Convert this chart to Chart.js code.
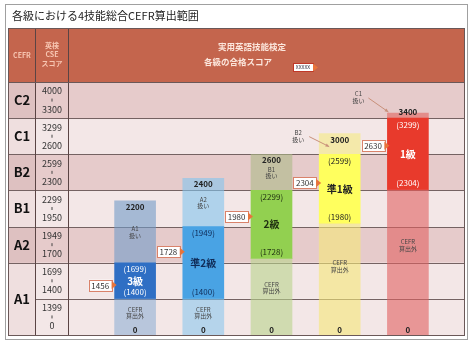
<!DOCTYPE html>
<html lang="ja">
<head>
<meta charset="utf-8">
<title>各級における4技能総合CEFR算出範囲</title>
<script src="https://cdn.jsdelivr.net/npm/chart.js@4/dist/chart.umd.min.js"></script>
<style>
  html, body { margin: 0; padding: 0; background: #fff; }
  #wrap { position: relative; width: 474px; height: 342px; }
</style>
</head>
<body>
<div id="wrap"><canvas id="cefrChart"></canvas></div>
<script>
// CSE score bands (bottom to top) and the CEFR level of each band
const bandFloor = [0, 1400, 1700, 1950, 2300, 2600, 3300];
const bandCeil = [1399, 1699, 1949, 2299, 2599, 3299, 4000];
const bandCefr = ['A1', 'A1', 'A2', 'B1', 'B2', 'C1', 'C2'];
const cseTop = 4000;

// Eiken grades
const grades = ['3級', '準2級', '2級', '準1級', '1級'];
const passLow = [1400, 1400, 1728, 1980, 2304];
const passHigh = [1699, 1949, 2299, 2599, 3299];
const scoreMax = [2200, 2400, 2600, 3000, 3400];
const passMark = [1456, 1728, 1980, 2304, 2630];
const treatedAs = ['A1', 'A2', 'B1', 'B2', 'C1'];

const titleText = '各級における4技能総合CEFR算出範囲';
const JP = "'Noto Sans CJK JP', 'Noto Sans', sans-serif";

// colours
const passColors = ['#2F6FC4', '#49A3E4', '#92D050', '#FFFF5E', '#E83A2C'];
const highColors = ['rgba(113,155,200,0.6)', 'rgba(130,197,238,0.6)', 'rgba(172,185,135,0.6)', 'rgba(245,235,130,0.6)', 'rgba(225,100,95,0.6)'];
const lowColors = ['rgba(125,165,210,0.5)', 'rgba(130,197,238,0.55)', 'rgba(185,212,140,0.6)', 'rgba(245,232,120,0.6)', 'rgba(225,97,97,0.6)'];
const passText = ['#ffffff', '#102c58', '#1e2e10', '#222222', '#ffffff'];

// score -> row position (each CEFR band gets one row)
function toRow(score) {
  for (let i = bandFloor.length - 1; i >= 0; i--) {
    if (score >= bandFloor[i]) {
      const next = i + 1 < bandFloor.length ? bandFloor[i + 1] : cseTop;
      return i + (score - bandFloor[i]) / (next - bandFloor[i]);
    }
  }
  return 0;
}

const lowData = passLow.map(v => [0, toRow(v)]);
const passData = passLow.map((v, i) => [toRow(v), toRow(passHigh[i] + 1)]);
const highData = passHigh.map((v, i) => [toRow(v + 1), toRow(scoreMax[i])]);

function txt(ctx, s, x, y, font, color, align) {
  ctx.font = font;
  ctx.fillStyle = color;
  ctx.textAlign = align || 'center';
  ctx.textBaseline = 'middle';
  ctx.fillText(s, x, y);
}

const tablePlugin = {
  id: 'cefrTable',
  beforeDatasetsDraw(chart) {
    const { ctx, scales: { y } } = chart;
    const L = 8, C1 = 35, C2 = 68, R = 464, HT = 28;
    const yHead = y.getPixelForValue(bandFloor.length);
    const yBase = y.getPixelForValue(0);
    const levels = [...new Set(bandCefr)];
    ctx.save();
    ctx.fillStyle = '#fff';
    ctx.fillRect(0, 0, chart.width, chart.height);
    ctx.strokeStyle = '#a0a0a0';
    ctx.lineWidth = 1;
    ctx.strokeRect(5.5, 4.5, 462, 335);

    txt(ctx, titleText, 12, 16, `11px ${JP}`, '#222', 'left');

    // header
    ctx.fillStyle = '#C4654D';
    ctx.fillRect(L, HT, R - L, yHead - HT);

    // rows
    bandFloor.forEach((f, i) => {
      const yt = y.getPixelForValue(i + 1), yb = y.getPixelForValue(i);
      const dark = levels.indexOf(bandCefr[i]) % 2 === 1;
      ctx.fillStyle = dark ? '#E6CBCB' : '#F3E7E7';
      ctx.fillRect(L, yt, R - L, yb - yt);
      ctx.fillStyle = dark ? '#DEC1C1' : '#EFDFDF';
      ctx.fillRect(L, yt, C1 - L, yb - yt);
    });

    // row lines
    ctx.strokeStyle = '#746262';
    ctx.lineWidth = 1;
    for (let i = 1; i < bandFloor.length; i++) {
      const yy = Math.round(y.getPixelForValue(i)) + 0.5;
      const x0 = bandCefr[i] === bandCefr[i - 1] ? C1 : L;
      ctx.beginPath(); ctx.moveTo(x0, yy); ctx.lineTo(R, yy); ctx.stroke();
    }
    ctx.strokeStyle = '#5a4444';
    [C1, C2].forEach(x => {
      ctx.beginPath(); ctx.moveTo(x + 0.5, HT); ctx.lineTo(x + 0.5, yBase); ctx.stroke();
    });
    ctx.strokeStyle = '#6a5858';
    ctx.strokeRect(L + 0.5, HT + 0.5, R - L, yBase - HT);
    ctx.beginPath(); ctx.moveTo(L, Math.round(yHead) + 0.5); ctx.lineTo(R, Math.round(yHead) + 0.5); ctx.stroke();

    // CEFR labels
    levels.forEach(lv => {
      const idx = bandCefr.map((c, i) => c === lv ? i : -1).filter(i => i >= 0);
      const yt = y.getPixelForValue(Math.max(...idx) + 1), yb = y.getPixelForValue(Math.min(...idx));
      txt(ctx, lv, (L + C1) / 2 + 0.5, (yt + yb) / 2, `bold 13px ${JP}`, '#111');
    });
    // CSE ranges
    bandFloor.forEach((f, i) => {
      const yt = y.getPixelForValue(i + 1), yb = y.getPixelForValue(i);
      const cx = (C1 + C2) / 2 + 0.5;
      txt(ctx, String(bandCeil[i]), cx, yt + 9, `9px ${JP}`, '#333');
      txt(ctx, String(f), cx, yb - 9, `9px ${JP}`, '#333');
      ctx.fillStyle = '#444';
      ctx.fillRect(cx - 0.5, (yt + yb) / 2 - 1.5, 1, 3);
    });

    // header texts
    const hc = '#F7C6B2';
    txt(ctx, 'CEFR', (L + C1) / 2 + 0.5, 55, `bold 7px ${JP}`, hc);
    txt(ctx, '英検', (C1 + C2) / 2 + 0.5, 45, `bold 7px ${JP}`, hc);
    txt(ctx, 'CSE', (C1 + C2) / 2 + 0.5, 54, `bold 7px ${JP}`, hc);
    txt(ctx, 'スコア', (C1 + C2) / 2 + 0.5, 63, `bold 7px ${JP}`, hc);
    txt(ctx, '実用英語技能検定', 252, 47, `bold 8.5px ${JP}`, '#FCE6DC');
    txt(ctx, '各級の合格スコア', 238, 62, `bold 8.5px ${JP}`, '#FCE6DC');
    // legend for the pass-mark callouts
    ctx.fillStyle = '#fff';
    ctx.fillRect(293, 63, 20, 8);
    ctx.strokeStyle = '#C03828';
    ctx.strokeRect(293.5, 63.5, 20, 8);
    txt(ctx, 'XXXXX', 303, 67.5, `5px ${JP}`, '#334');
    ctx.fillStyle = '#E8743B';
    ctx.beginPath(); ctx.moveTo(313, 63.5); ctx.lineTo(318, 67.5); ctx.lineTo(313, 71.5); ctx.closePath(); ctx.fill();
    ctx.restore();
  }
};

// callouts for grades whose "扱い" label sits outside the bar
const callouts = {
  3: { tx: -21, ty: -1, ax0: -10, ay0: 3, ax1: 10, ay1: 13 },
  4: { tx: -29, ty: -19, ax0: -19, ay0: -15, ax1: 1, ay1: -1 }
};
const markerLift = 7;

const labelPlugin = {
  id: 'barLabels',
  afterDatasetsDraw(chart) {
    const { ctx, scales: { y } } = chart;
    const bars = chart.getDatasetMeta(1).data;
    ctx.save();
    grades.forEach((g, i) => {
      const cx = bars[i].x;
      const left = cx - bars[i].width / 2;
      const yTop = y.getPixelForValue(toRow(scoreMax[i]));
      const yPassTop = y.getPixelForValue(toRow(passHigh[i] + 1));
      const yPassBot = y.getPixelForValue(toRow(passLow[i]));
      const yBase = y.getPixelForValue(0);

      txt(ctx, String(scoreMax[i]), cx, Math.min(yTop + 6, yPassTop - 6), `bold 8px ${JP}`, '#222');

      const co = callouts[i];
      if (co) {
        txt(ctx, treatedAs[i], left + co.tx, yTop + co.ty, `6px ${JP}`, '#444');
        txt(ctx, '扱い', left + co.tx, yTop + co.ty + 7, `6px ${JP}`, '#444');
        const x0 = left + co.ax0, y0 = yTop + co.ay0, x1 = left + co.ax1, y1 = yTop + co.ay1;
        ctx.strokeStyle = '#C8907A';
        ctx.fillStyle = '#C8907A';
        ctx.lineWidth = 1;
        ctx.beginPath(); ctx.moveTo(x0, y0); ctx.lineTo(x1, y1); ctx.stroke();
        const a = Math.atan2(y1 - y0, x1 - x0);
        ctx.beginPath();
        ctx.moveTo(x1, y1);
        ctx.lineTo(x1 - 4 * Math.cos(a - 0.45), y1 - 4 * Math.sin(a - 0.45));
        ctx.lineTo(x1 - 4 * Math.cos(a + 0.45), y1 - 4 * Math.sin(a + 0.45));
        ctx.closePath(); ctx.fill();
      } else {
        const mid = (yTop + yPassTop) / 2;
        txt(ctx, treatedAs[i], cx, mid - 3, `6px ${JP}`, '#444');
        txt(ctx, '扱い', cx, mid + 3.5, `6px ${JP}`, '#444');
      }

      // pass range
      const pc = passText[i];
      txt(ctx, `(${passHigh[i]})`, cx, yPassTop + 6.5, `8px ${JP}`, pc);
      txt(ctx, g, cx, (yPassTop + yPassBot) / 2, `bold 10px ${JP}`, pc);
      txt(ctx, `(${passLow[i]})`, cx, yPassBot - 6.5, `8px ${JP}`, pc);

      // below CEFR range
      const ly = yPassBot + (yBase - yPassBot) * 0.38;
      txt(ctx, 'CEFR', cx, ly - 3, `6px ${JP}`, '#444');
      txt(ctx, '算出外', cx, ly + 3.5, `6px ${JP}`, '#444');
      txt(ctx, '0', cx, yBase - 5, `bold 8px ${JP}`, '#222');

      // passing score marker
      const my = y.getPixelForValue(toRow(passMark[i])) - markerLift;
      ctx.font = `8px ${JP}`;
      const w = ctx.measureText(String(passMark[i])).width + 5;
      const bx = left - 3 - w;
      ctx.fillStyle = '#fff';
      ctx.fillRect(bx, my - 5.5, w, 11);
      ctx.strokeStyle = '#D9826A';
      ctx.lineWidth = 1;
      ctx.strokeRect(Math.round(bx) + 0.5, Math.round(my - 5.5) + 0.5, Math.round(w), 11);
      txt(ctx, String(passMark[i]), bx + w / 2, my + 0.5, `8px ${JP}`, '#333');
      ctx.fillStyle = '#E8743B';
      ctx.beginPath(); ctx.moveTo(left - 3, my - 4); ctx.lineTo(left + 2, my); ctx.lineTo(left - 3, my + 4); ctx.closePath(); ctx.fill();
    });
    ctx.restore();
  }
};

const ctx = document.getElementById('cefrChart');
const cefrChart = new Chart(ctx, {
  type: 'bar',
  data: {
    labels: grades,
    datasets: [
      { label: 'CEFR算出外', data: lowData, backgroundColor: lowColors },
      { label: '合格スコア', data: passData, backgroundColor: passColors },
      { label: '扱い', data: highData, backgroundColor: highColors }
    ]
  },
  options: {
    responsive: true,
    maintainAspectRatio: false,
    animation: false,
    datasets: { bar: { grouped: false, barThickness: 41, borderWidth: 0 } },
    layout: { padding: { left: 101, right: 32, top: 82, bottom: 7 } },
    scales: {
      x: { display: false },
      y: { display: false, min: 0, max: bandFloor.length }
    },
    plugins: {
      legend: { display: false },
      tooltip: { enabled: false }
    }
  },
  plugins: [tablePlugin, labelPlugin]
});
</script>
</body>
</html>
